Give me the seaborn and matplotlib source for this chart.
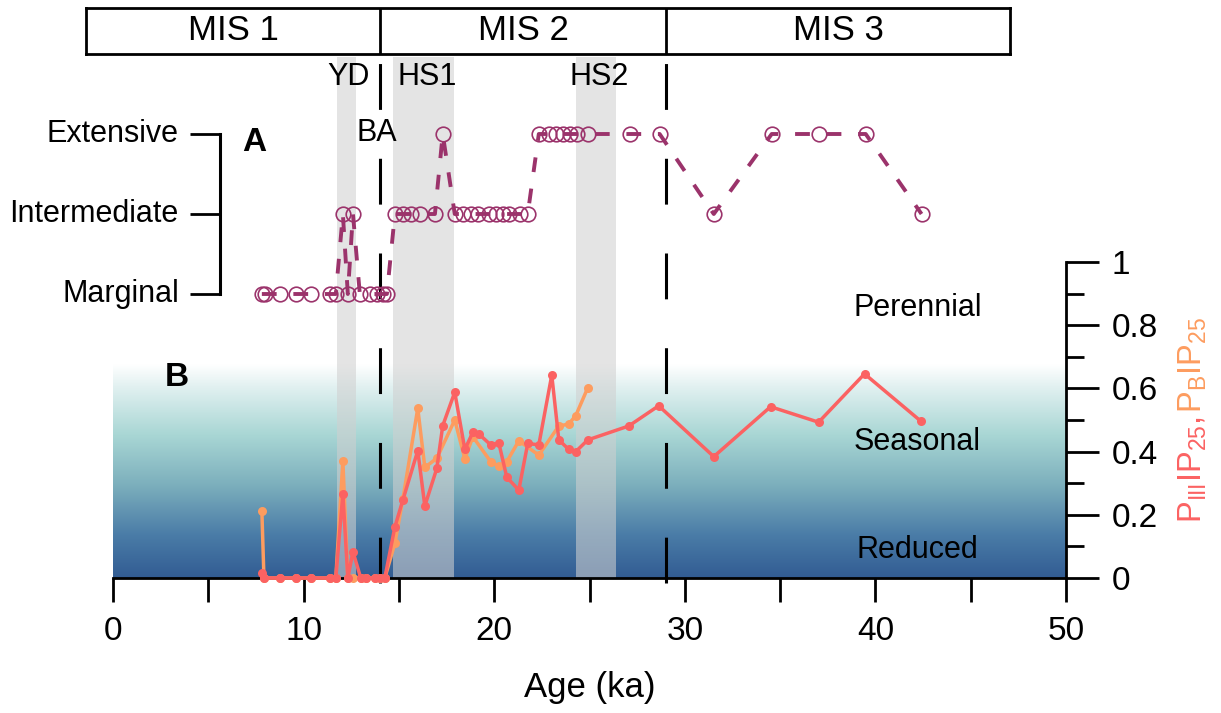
import numpy as np
import matplotlib
matplotlib.use("Agg")
import matplotlib.pyplot as plt
import seaborn as sns
from matplotlib.colors import LinearSegmentedColormap
from matplotlib.transforms import blended_transform_factory
from matplotlib.ticker import MultipleLocator, FuncFormatter

# ---------------- data ----------------
# Panel A: sea-ice state (1 = Marginal, 2 = Intermediate, 3 = Extensive)
ice_age = [7.81, 7.97, 8.76, 9.60, 10.38, 11.38, 11.69, 12.06, 12.32, 12.59, 12.95,
           13.48, 13.84, 14.16, 14.37, 14.79, 15.21, 15.63, 16.10, 16.89, 17.30,
           17.93, 18.35, 18.77, 19.14, 19.72, 20.08, 20.45, 20.77, 21.34, 21.76,
           22.34, 22.86, 23.23, 23.60, 23.96, 24.33, 24.91, 27.11, 28.68, 31.52,
           34.56, 37.02, 39.49, 42.42]
ice_level = [1, 1, 1, 1, 1, 1, 1, 2, 1, 2, 1,
             1, 1, 1, 1, 2, 2, 2, 2, 2, 3,
             2, 2, 2, 2, 2, 2, 2, 2, 2, 2,
             3, 3, 3, 3, 3, 3, 3, 3, 3, 2,
             3, 3, 3, 2]
ice_labels = ["Marginal", "Intermediate", "Extensive"]

# Panel B: PIIIIP25
piii_age = [7.81, 7.92, 8.76, 9.60, 10.38, 11.38, 11.69, 12.06, 12.32, 12.59, 13.00,
            13.27, 13.74, 14.00, 14.26, 14.79, 15.21, 15.99, 16.36, 16.99, 17.30,
            17.93, 18.46, 18.88, 19.19, 19.82, 20.24, 20.66, 21.29, 21.76, 22.34,
            23.02, 23.39, 23.91, 24.28, 24.91, 27.06, 28.63, 31.52, 34.50, 37.02,
            39.43, 42.37]
piii_val = [0.017, 0.0, 0.0, 0.0, 0.0, 0.0, 0.0, 0.266, 0.0, 0.083, 0.0,
            0.0, 0.0, 0.0, 0.0, 0.162, 0.247, 0.403, 0.228, 0.347, 0.482,
            0.588, 0.407, 0.461, 0.456, 0.421, 0.428, 0.319, 0.278, 0.426, 0.421,
            0.642, 0.437, 0.407, 0.400, 0.437, 0.481, 0.545, 0.384, 0.542, 0.493,
            0.646, 0.497]

# Panel B: PBIP25
pb_age = [7.81, 7.92, 8.76, 9.60, 10.38, 11.38, 11.69, 12.06, 12.32, 12.59, 13.00,
          13.27, 13.74, 14.00, 14.26, 14.79, 15.21, 15.99, 16.36, 16.99, 17.93,
          18.46, 18.88, 19.82, 20.24, 20.66, 21.29, 22.34, 23.39, 23.91, 24.28,
          24.91]
pb_val = [0.213, 0.0, 0.0, 0.0, 0.0, 0.0, 0.0, 0.370, 0.0, 0.0, 0.0,
          0.0, 0.0, 0.0, 0.0, 0.110, 0.250, 0.537, 0.350, 0.379, 0.500,
          0.377, 0.447, 0.368, 0.354, 0.368, 0.434, 0.389, 0.481, 0.487, 0.514,
          0.602]

mis_labels = ["MIS 1", "MIS 2", "MIS 3"]
mis_boundaries = [14, 29]
event_labels = ["YD", "HS1", "HS2"]
event_start = [11.75, 14.70, 24.30]
event_end = [12.75, 17.90, 26.40]
regime_labels = ["Perennial", "Seasonal", "Reduced"]
regime_y = [0.855, 0.43, 0.09]
x_ticks = [0, 10, 20, 30, 40, 50]
y_ticks = [0, 0.2, 0.4, 0.6, 0.8, 1]

# ---------------- style ----------------
sns.set_theme(style="ticks")
plt.rcParams["font.family"] = ["Liberation Sans", "DejaVu Sans"]
plt.rcParams["mathtext.fontset"] = "custom"
plt.rcParams["mathtext.rm"] = "Liberation Sans"
plt.rcParams["mathtext.it"] = "Liberation Sans:italic"
plt.rcParams["mathtext.bf"] = "Liberation Sans:bold"
for k in ["text.color", "axes.labelcolor", "xtick.color", "ytick.color",
          "axes.edgecolor"]:
    plt.rcParams[k] = "black"

W, H = 1221, 713
fig = plt.figure(figsize=(W / 100, H / 100), dpi=100)


def fx(px):
    return px / W


def fy(py):
    return 1 - py / H


C_RED = "#fb6262"
C_ORANGE = "#fd9c5f"
C_ICE = "#9b336b"
FS = 22

# ---------------- panel B ----------------
axB = fig.add_axes([fx(113), fy(578), (1066 - 113) / W, (578 - 262) / H])

cmap = LinearSegmentedColormap.from_list(
    "ice",
    [(0.0, "#325c93"), (0.2, "#4a7ca7"), (0.44, "#7db0bd"),
     (0.667, "#a8d6d4"), (0.89, "#e0f0f0"), (1.0, "#ffffff")])
grad = np.linspace(0, 1, 256).reshape(-1, 1)
axB.imshow(grad, extent=[0, 50, 0, 0.675], aspect="auto", cmap=cmap,
           origin="lower", zorder=0)

for s, e in zip(event_start, event_end):
    axB.axvspan(s, e, ymin=0, ymax=(578 - 57) / 316, color="#d0d0d0",
                alpha=0.57, lw=0, clip_on=False, zorder=1)

trans = blended_transform_factory(axB.transData, axB.transAxes)
for a in mis_boundaries:
    axB.plot([a, a], [-0.016, (578 - 60) / 316], transform=trans, color="black",
             lw=2.2, linestyle=(0, (15, 16)), clip_on=False, zorder=2)

sns.lineplot(x=pb_age, y=pb_val, ax=axB, color=C_ORANGE, marker="o",
             markersize=6.5, markeredgewidth=0, linewidth=2.5, sort=False,
             clip_on=False, zorder=3)
sns.lineplot(x=piii_age, y=piii_val, ax=axB, color=C_RED, marker="o",
             markersize=6.5, markeredgewidth=0, linewidth=2.5, sort=False,
             clip_on=False, zorder=4)

axB.set_xlim(0, 50)
axB.set_ylim(0, 1)
for side in ["left", "top"]:
    axB.spines[side].set_visible(False)
for side in ["bottom", "right"]:
    axB.spines[side].set_linewidth(2)
    axB.spines[side].set_color("black")
axB.yaxis.tick_right()
axB.set_xticks(x_ticks)
axB.xaxis.set_minor_locator(MultipleLocator(5))
axB.set_yticks(y_ticks)
axB.yaxis.set_minor_locator(MultipleLocator(0.1))
axB.yaxis.set_major_formatter(FuncFormatter(lambda v, p: f"{v:g}"))
axB.tick_params(axis="x", which="both", length=17, width=2, color="black",
                labelsize=24, pad=10)
axB.tick_params(axis="y", which="major", length=24, width=2, color="black",
                labelsize=24, pad=9)
axB.tick_params(axis="y", which="minor", length=13, width=2, color="black")
axB.set_ylabel("")
axB.set_xlabel("Age (ka)", fontsize=25)
axB.xaxis.set_label_coords(0.5, -0.295)

axB.text(3.36, 0.636, "B", fontsize=24, fontweight="bold", ha="center",
         va="center")
for lab, yv in zip(regime_labels, regime_y):
    axB.text(42.2, yv, lab, fontsize=FS, ha="center", va="center", zorder=5)

# ---------------- panel A ----------------
axA = fig.add_axes([fx(113), fy(294), (1066 - 113) / W, (294 - 134) / H])
sns.lineplot(x=ice_age, y=ice_level, ax=axA, color=C_ICE, linewidth=2.8,
             linestyle=(0, (3.8, 4.3)), marker="o", markersize=10.5,
             markerfacecolor="none", markeredgecolor=C_ICE,
             markeredgewidth=1.2, sort=False, clip_on=False)
axA.set_xlim(0, 50)
axA.set_ylim(1, 3)
axA.axis("off")
for lev, lab in zip([1, 2, 3], ice_labels):
    axA.plot([4.04, 5.66], [lev, lev], color="black", lw=2, clip_on=False,
             solid_capstyle="butt")
    axA.text(3.45, lev, lab, fontsize=FS, ha="right", va="center")
axA.plot([5.62, 5.62], [1, 3], color="black", lw=2.2, clip_on=False,
         solid_capstyle="projecting")
axA.text(7.39, 2.89, "A", fontsize=24, fontweight="bold", ha="center",
         va="center")

# event labels
for lab, xp in zip(event_labels, [349, 427, 599]):
    fig.text(fx(xp), fy(77), lab, fontsize=FS, ha="center", va="center")
fig.text(fx(377), fy(133), "BA", fontsize=FS, ha="center", va="center")

# ---------------- MIS bar ----------------
x_left_ka, x_right_ka = (86 - 113) / 19.07, (1010 - 113) / 19.07
axM = fig.add_axes([fx(86), fy(54), (1010 - 86) / W, (54 - 8) / H])
axM.set_xlim(x_left_ka, x_right_ka)
axM.set_ylim(0, 1)
axM.set_xticks([])
axM.set_yticks([])
for sp in axM.spines.values():
    sp.set_linewidth(2)
    sp.set_color("black")
bounds = [x_left_ka] + mis_boundaries + [x_right_ka]
for b in mis_boundaries:
    axM.axvline(b, color="black", lw=2)
for i, lab in enumerate(mis_labels):
    axM.text((bounds[i] + bounds[i + 1]) / 2, 0.5, lab, fontsize=25,
             ha="center", va="center")

# ---------------- right axis label (two colours) ----------------
t1 = fig.text(fx(1193), fy(523), r"$\mathrm{P_{III}IP_{25}}$, ", color=C_RED,
              fontsize=23.5, rotation=90, ha="center", va="bottom")
fig.canvas.draw()
bb = t1.get_window_extent()
t2 = fig.text(fx(1193), bb.y1 / H, r"$\mathrm{P_{B}IP_{25}}$", color=C_ORANGE,
              fontsize=23.5, rotation=90, ha="center", va="bottom")

fig.savefig("out.png", dpi=100)
